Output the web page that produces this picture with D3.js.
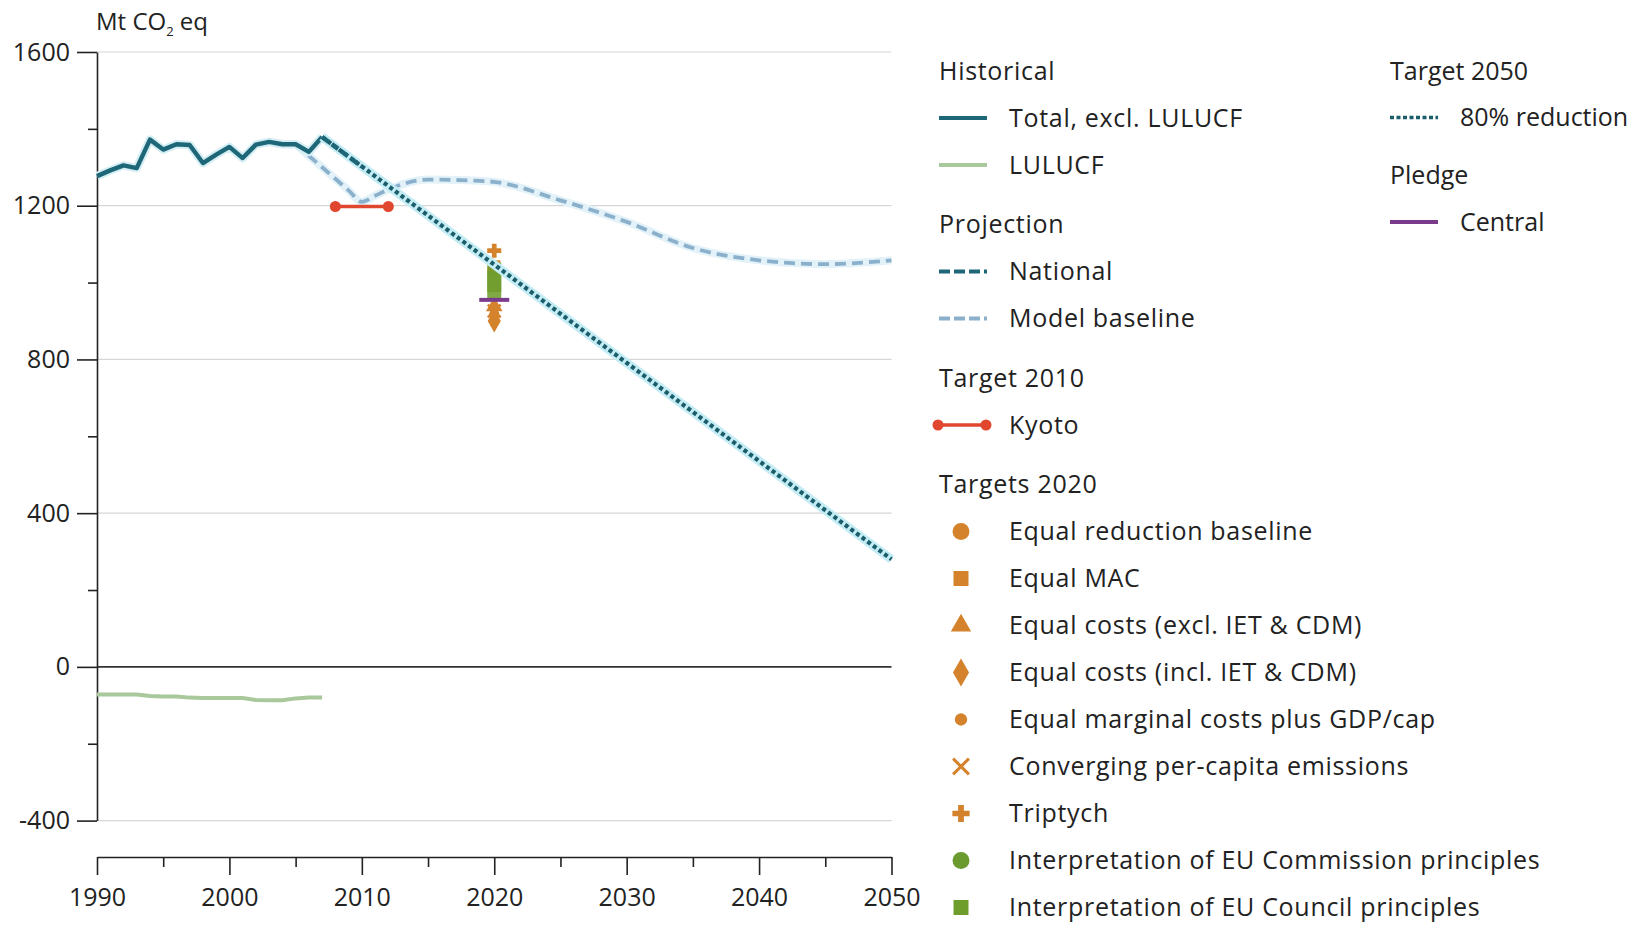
<!DOCTYPE html>
<html>
<head>
<meta charset="utf-8">
<script src="https://cdn.jsdelivr.net/npm/d3@7"></script>
<style>
  html, body { margin: 0; padding: 0; background: #ffffff; }
  svg { display: block; }
  text { font-family: "Open Sans", "Noto Sans", sans-serif; fill: #222; }
</style>
</head>
<body>
<svg id="chart" width="1635" height="925"></svg>
<script>
// ---------------- DATA ----------------
const histYears   = [1990,1991,1992,1993,1994,1995,1996,1997,1998,1999,2000,2001,2002,2003,2004,2005,2006,2007];
const histTotal   = [1277,1292,1305,1298,1372,1346,1360,1358,1311,1333,1353,1324,1359,1366,1360,1360,1340,1379];
const histLULUCF  = [-72,-72,-72,-72,-76,-77,-77,-80,-81,-81,-81,-81,-86,-87,-87,-82,-80,-80];

const baselineYears  = [2005,2006,2007,2008,2009,2010,2011,2012,2015,2018,2020,2025,2030,2035,2040,2045,2050];
const baselineValues = [1360,1330,1300,1270,1240,1210,1226,1242,1268,1266,1262,1214,1158,1090,1058,1048,1058];

const nationalYears  = [2007,2010];
const nationalValues = [1379,1302];

const target2050Years  = [2007,2050];
const target2050Values = [1379,280];

const kyotoYears  = [2008,2012];
const kyotoValues = [1198,1198];

const targetYear = 2020;
const targetNames  = ["Equal reduction baseline","Equal MAC","Equal costs (excl. IET & CDM)","Equal costs (incl. IET & CDM)","Equal marginal costs plus GDP/cap","Converging per-capita emissions","Triptych","Interpretation of EU Commission principles","Interpretation of EU Council principles"];
const targetValues = [1035,1042,938,900,918,926,1083,1000,1004];
const targetLow    = [null,null,null,null,null,null,null,975,958];
const targetHigh   = [null,null,null,null,null,null,null,1030,1052];
const targetShapes = ["circle","square","triangle","diamond","smallcircle","cross","plus","circle","square"];
const targetColors = ["#d4822c","#d4822c","#d4822c","#d4822c","#d4822c","#d4822c","#d4822c","#6b9a2e","#6f9d2c"];

const pledgeCentral = 955;

const yTicks      = [-400,0,400,800,1200,1600];
const yMinorTicks = [-200,200,600,1000,1400];
const xTicks      = [1990,2000,2010,2020,2030,2040,2050];
const xMinorTicks = [1995,2005,2015,2025,2035,2045];

const legendLeftHeaders = ["Historical","Projection","Target 2010","Targets 2020"];
const legendLeftItems = [
  ["Total, excl. LULUCF","LULUCF"],
  ["National","Model baseline"],
  ["Kyoto"],
  targetNames
];
const legendRightHeaders = ["Target 2050","Pledge"];
const legendRightItems = [["80% reduction"],["Central"]];

// ---------------- STYLES ----------------
const C = {
  hist: "#1e6778", lulucf: "#a9c89b", baseline: "#8bb0cc", national: "#1e6778",
  dotted: "#1b5d6b", halo: "#c4ecf4", kyoto: "#e1472e", pledge: "#7b3b8c", grid: "#d6d6d6"
};

const svg = d3.select("#chart");
const x = d3.scaleLinear().domain([1990,2050]).range([97,891.5]);
const y = d3.scaleLinear().domain([-400,1600]).range([820.6,52]);
const fs = 25;

// gridlines
svg.append("g").selectAll("line").data(yTicks.filter(d => d !== 0)).join("line")
  .attr("x1", x(1990)).attr("x2", x(2050))
  .attr("y1", d => y(d)).attr("y2", d => y(d))
  .attr("stroke", C.grid).attr("stroke-width", 1.2);
svg.append("line").attr("x1", x(1990)).attr("x2", x(2050)).attr("y1", y(0)).attr("y2", y(0))
  .attr("stroke", "#333").attr("stroke-width", 1.6);

// y axis
const yAxis = svg.append("g").attr("transform", `translate(${x(1990)},0)`)
  .call(d3.axisLeft(y).tickValues(yTicks).tickSize(20).tickSizeOuter(0).tickPadding(7).tickFormat(d => String(d)));
yAxis.select(".domain").attr("stroke", "#222").attr("stroke-width", 1.6);
yAxis.selectAll(".tick line").attr("stroke", "#222").attr("stroke-width", 1.6);
yAxis.selectAll(".tick text").attr("font-size", fs).attr("font-family", "Open Sans").attr("fill", "#222");
const yMinor = svg.append("g").attr("transform", `translate(${x(1990)},0)`)
  .call(d3.axisLeft(y).tickValues(yMinorTicks).tickSize(9).tickSizeOuter(0).tickFormat(""));
yMinor.select(".domain").remove();
yMinor.selectAll(".tick line").attr("stroke", "#222").attr("stroke-width", 1.6);

// x axis
const xAxisY = 857;
const xAxis = svg.append("g").attr("transform", `translate(0,${xAxisY})`)
  .call(d3.axisBottom(x).tickValues(xTicks).tickSize(18).tickSizeOuter(0).tickPadding(13).tickFormat(d => String(d)));
xAxis.select(".domain").attr("stroke", "#222").attr("stroke-width", 1.6);
xAxis.selectAll(".tick line").attr("stroke", "#222").attr("stroke-width", 1.6);
xAxis.selectAll(".tick text").attr("font-size", fs).attr("font-family", "Open Sans").attr("fill", "#222");
const xMinor = svg.append("g").attr("transform", `translate(0,${xAxisY})`)
  .call(d3.axisBottom(x).tickValues(xMinorTicks).tickSize(10).tickSizeOuter(0).tickFormat(""));
xMinor.select(".domain").remove();
xMinor.selectAll(".tick line").attr("stroke", "#222").attr("stroke-width", 1.6);

// unit label
const unit = svg.append("text").attr("x", 96).attr("y", 30).attr("font-size", fs - 1);
unit.append("tspan").text("Mt CO");
unit.append("tspan").attr("font-size", 13).attr("dy", 6).text("2");
unit.append("tspan").attr("dy", -6).text(" eq");

const line = d3.line().x(d => x(d[0])).y(d => y(d[1]));
const curve = d3.line().x(d => x(d[0])).y(d => y(d[1])).curve(d3.curveMonotoneX);
const zip = (a, b) => a.map((v, i) => [v, b[i]]);

// LULUCF
svg.append("path").datum(zip(histYears, histLULUCF)).attr("d", line)
  .attr("fill", "none").attr("stroke", C.lulucf).attr("stroke-width", 4);

// model baseline
svg.append("path").datum(zip(baselineYears, baselineValues)).attr("d", curve)
  .attr("fill", "none").attr("stroke", "#e2f2f8").attr("stroke-width", 8);
svg.append("path").datum(zip(baselineYears, baselineValues)).attr("d", curve)
  .attr("fill", "none").attr("stroke", C.baseline).attr("stroke-width", 3.8).attr("stroke-dasharray", "11,6");

// historical total
svg.append("path").datum(zip(histYears, histTotal)).attr("d", line)
  .attr("fill", "none").attr("stroke", "#d4eef4").attr("stroke-width", 8.5).attr("stroke-linejoin", "round");
svg.append("path").datum(zip(histYears, histTotal)).attr("d", line)
  .attr("fill", "none").attr("stroke", C.hist).attr("stroke-width", 4.4).attr("stroke-linejoin", "round");

// targets 2020
const symType = {circle: d3.symbolCircle, square: d3.symbolSquare, triangle: d3.symbolTriangle,
  diamond: d3.symbolDiamond, smallcircle: d3.symbolCircle, cross: d3.symbolX, plus: d3.symbolCross};
const symSize = {circle: 150, square: 150, triangle: 120, diamond: 150, smallcircle: 80, cross: 110, plus: 110};
const tg = svg.append("g");
targetNames.forEach((n, i) => {
  if (targetLow[i] !== null) {
    tg.append("rect").attr("x", x(targetYear) - 7).attr("width", 14)
      .attr("y", y(targetHigh[i])).attr("height", y(targetLow[i]) - y(targetHigh[i]))
      .attr("fill", targetColors[i]).attr("opacity", 0.88);
  } else {
    const s = targetShapes[i];
    const sym = tg.append("path").attr("transform", `translate(${x(targetYear)},${y(targetValues[i])})`)
      .attr("d", d3.symbol(symType[s], symSize[s])())
      .attr("fill", targetColors[i]);
    if (s === "cross") sym.attr("stroke", targetColors[i]).attr("stroke-width", 2.5);
  }
});
tg.selectAll("rect").raise();

// target 2050 dotted line (with halo)
svg.append("path").datum(zip(target2050Years, target2050Values)).attr("d", line)
  .attr("fill", "none").attr("stroke", C.halo).attr("stroke-width", 9);
svg.append("path").datum(zip(target2050Years, target2050Values)).attr("d", line)
  .attr("fill", "none").attr("stroke", C.dotted).attr("stroke-width", 4.2).attr("stroke-dasharray", "4,3");

// national projection
svg.append("path").datum(zip(nationalYears, nationalValues)).attr("d", line)
  .attr("fill", "none").attr("stroke", C.national).attr("stroke-width", 4.5).attr("stroke-dasharray", "8,4");

// kyoto
svg.append("path").datum(zip(kyotoYears, kyotoValues)).attr("d", line)
  .attr("fill", "none").attr("stroke", C.kyoto).attr("stroke-width", 3.5);
svg.append("g").selectAll("circle").data(zip(kyotoYears, kyotoValues)).join("circle")
  .attr("cx", d => x(d[0])).attr("cy", d => y(d[1])).attr("r", 5.5).attr("fill", C.kyoto);

// pledge central
svg.append("line").attr("x1", x(targetYear) - 15).attr("x2", x(targetYear) + 15)
  .attr("y1", y(pledgeCentral)).attr("y2", y(pledgeCentral))
  .attr("stroke", C.pledge).attr("stroke-width", 4);

// ---------------- LEGEND ----------------
const swatch = {
  "Total, excl. LULUCF": {type: "line", color: C.hist},
  "LULUCF": {type: "line", color: C.lulucf},
  "National": {type: "line", color: C.national, dash: "11,4"},
  "Model baseline": {type: "line", color: C.baseline, dash: "11,4"},
  "Kyoto": {type: "kyoto", color: C.kyoto},
  "80% reduction": {type: "line", color: C.dotted, dash: "4,2.5", width: 3.5},
  "Central": {type: "line", color: C.pledge}
};
targetNames.forEach((n, i) => swatch[n] = {type: "symbol", shape: targetShapes[i], color: targetColors[i]});

function drawLegend(headers, items, x0, y0, stepItem, stepHeader, textX, ls) {
  const g = svg.append("g");
  let yy = y0;
  headers.forEach((h, gi) => {
    g.append("text").attr("x", x0).attr("y", yy).attr("dy", "0.35em").attr("font-size", fs)
      .attr("letter-spacing", ls).text(h);
    items[gi].forEach(it => {
      yy += stepItem;
      const sw = swatch[it];
      if (sw.type === "line") {
        g.append("line").attr("x1", x0).attr("x2", x0 + 48).attr("y1", yy).attr("y2", yy)
          .attr("stroke", sw.color).attr("stroke-width", sw.width || 4)
          .attr("stroke-dasharray", sw.dash || null);
      } else if (sw.type === "kyoto") {
        g.append("line").attr("x1", x0 - 3).attr("x2", x0 + 48).attr("y1", yy).attr("y2", yy)
          .attr("stroke", sw.color).attr("stroke-width", 3.5);
        g.append("circle").attr("cx", x0 - 1).attr("cy", yy).attr("r", 5.5).attr("fill", sw.color);
        g.append("circle").attr("cx", x0 + 47).attr("cy", yy).attr("r", 5.5).attr("fill", sw.color);
      } else {
        const s = sw.shape;
        const p = g.append("path").attr("transform", `translate(${x0 + 22},${yy})`)
          .attr("d", d3.symbol(symType[s], symSize[s] * 1.5)()).attr("fill", sw.color);
        if (s === "cross") p.attr("stroke", sw.color).attr("stroke-width", 3);
      }
      g.append("text").attr("x", textX).attr("y", yy).attr("dy", "0.35em").attr("font-size", fs)
        .attr("letter-spacing", ls).text(it);
    });
    yy += stepHeader;
  });
}
drawLegend(legendLeftHeaders, legendLeftItems, 939, 71, 47, 59.5, 1009, "0.7px");
drawLegend(legendRightHeaders, legendRightItems, 1390, 71, 46.5, 58, 1460, "0px");
</script>
</body>
</html>
